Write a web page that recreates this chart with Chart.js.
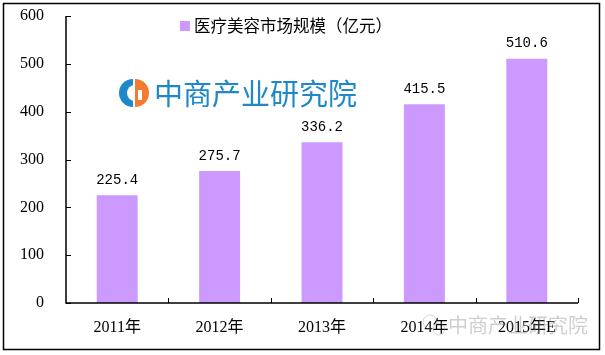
<!DOCTYPE html>
<html><head><meta charset="utf-8">
<script src="https://cdn.jsdelivr.net/npm/chart.js@4/dist/chart.umd.min.js"></script>
<style>html,body{margin:0;padding:0;background:#fff}#wrap{width:605px;height:355px}</style>
</head><body><div id="wrap"><canvas id="c" width="605" height="355"></canvas></div>
<script>
const categories = ["2011年", "2012年", "2013年", "2014年", "2015年E"];
const marketSize = [225.4, 275.7, 336.2, 415.5, 510.6];
const seriesName = "医疗美容市场规模（亿元）";
const yTicks = [0, 100, 200, 300, 400, 500, 600];

const serif = '"Liberation Serif","Noto Sans CJK SC",serif';
const cjk = '"Noto Sans CJK SC","Noto Sans",sans-serif';

const decor = {
  id: 'decor',
  beforeDraw(chart) {
    const ctx = chart.ctx;
    ctx.save();
    ctx.fillStyle = '#fff';
    ctx.fillRect(0, 0, chart.width, chart.height);
    ctx.strokeStyle = '#000';
    ctx.lineWidth = 1.5;
    ctx.strokeRect(3.5, 3.5, 596, 346);
    ctx.restore();
  },
  afterDatasetsDraw(chart) {
    const ctx = chart.ctx;
    const y = chart.scales.y;
    const a = chart.chartArea;
    ctx.save();
    ctx.strokeStyle = '#000';
    ctx.lineWidth = 1.5;
    ctx.beginPath();
    ctx.moveTo(a.left, y.getPixelForValue(600));
    ctx.lineTo(a.left, y.getPixelForValue(0));
    ctx.lineTo(a.right, y.getPixelForValue(0));
    ctx.stroke();
    ctx.lineWidth = 1;
    ctx.beginPath();
    yTicks.forEach(v => {
      const py = Math.round(y.getPixelForValue(v)) + 0.5;
      ctx.moveTo(a.left, py); ctx.lineTo(a.left + 5, py);
    });
    const n = categories.length;
    const step = (a.right - a.left) / n;
    for (let i = 1; i <= n; i++) {
      const px = Math.round(a.left + i * step) + 0.5;
      ctx.moveTo(px, y.getPixelForValue(0)); ctx.lineTo(px, y.getPixelForValue(0) - 5);
    }
    ctx.stroke();
    const meta = chart.getDatasetMeta(0);
    ctx.fillStyle = '#000';
    ctx.font = '14px "Liberation Mono","DejaVu Sans Mono",monospace';
    ctx.textAlign = 'center';
    ctx.textBaseline = 'bottom';
    meta.data.forEach((bar, i) => {
      ctx.fillText(marketSize[i].toFixed(1), bar.x, bar.y - 8);
    });
    ctx.fillStyle = '#CC99FF';
    ctx.fillRect(180, 21, 10, 10);
    ctx.fillStyle = '#000';
    ctx.font = '16.5px ' + cjk;
    ctx.textAlign = 'left';
    ctx.textBaseline = 'middle';
    ctx.fillText(seriesName, 194, 26);
    const cx = 133, cy = 93, r = 14;
    ctx.fillStyle = '#1E88C8';
    ctx.beginPath(); ctx.arc(cx, cy, r, Math.PI * 0.5, Math.PI * 1.5); ctx.closePath(); ctx.fill();
    ctx.fillStyle = '#fff';
    ctx.beginPath(); ctx.arc(cx + 2, cy, 8, 0, Math.PI * 2); ctx.fill();
    ctx.fillStyle = '#F47A30';
    ctx.beginPath(); ctx.arc(cx + 2, cy, r, -Math.PI * 0.5, Math.PI * 0.5); ctx.closePath(); ctx.fill();
    ctx.fillStyle = '#fff';
    ctx.fillRect(cx + 5, cy - 3, 4, 10);
    ctx.fillStyle = '#1E88C8';
    ctx.font = '29px ' + cjk;
    ctx.textBaseline = 'middle';
    ctx.fillText('中商产业研究院', 154, 94);
    ctx.globalAlpha = 0.4;
    ctx.fillStyle = '#888';
    ctx.font = '20px ' + cjk;
    ctx.fillText('中商产业研究院', 448, 325);
    ctx.strokeStyle = '#999';
    ctx.lineWidth = 1;
    ctx.beginPath(); ctx.arc(430, 322, 7, 0, Math.PI * 2); ctx.stroke();
    ctx.beginPath(); ctx.arc(439, 329, 6, 0, Math.PI * 2); ctx.stroke();
    ctx.restore();
  }
};

new Chart(document.getElementById('c'), {
  type: 'bar',
  data: {
    labels: categories,
    datasets: [{
      label: seriesName,
      data: marketSize,
      backgroundColor: '#CC99FF',
      borderWidth: 0,
      barPercentage: 0.4,
      categoryPercentage: 1.0
    }]
  },
  options: {
    responsive: false,
    animation: false,
    devicePixelRatio: 1,
    layout: { padding: { left: 0, right: 27, top: 16, bottom: 0 } },
    plugins: { legend: { display: false }, tooltip: { enabled: false } },
    scales: {
      x: {
        grid: { display: false, drawTicks: false },
        border: { display: false },
        ticks: { color: '#000', font: { family: serif, size: 16 }, padding: 15, maxRotation: 0 },
        afterFit(s) { s.height = 52; }
      },
      y: {
        min: 0, max: 600,
        afterBuildTicks(s) { s.ticks = yTicks.map(v => ({ value: v })); },
        grid: { display: false, drawTicks: false },
        border: { display: false },
        ticks: { color: '#000', font: { family: serif, size: 16 }, padding: 22 },
        afterFit(s) { s.width = 66; s.paddingTop = 0; s.paddingBottom = 0; }
      }
    }
  },
  plugins: [decor]
});
</script></body></html>
